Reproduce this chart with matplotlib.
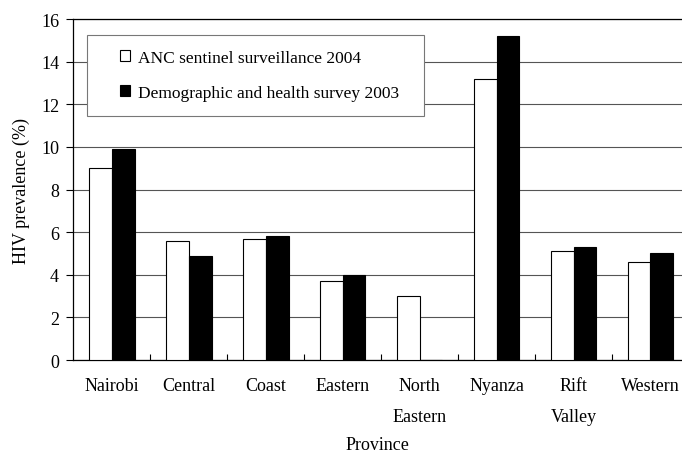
import numpy as np
import matplotlib
matplotlib.use("Agg")
import matplotlib.pyplot as plt
from matplotlib.ticker import FixedLocator
from matplotlib.patches import Rectangle

provinces = ["Nairobi", "Central", "Coast", "Eastern", "North\nEastern",
             "Nyanza", "Rift\nValley", "Western"]
anc_2004 = [9.0, 5.6, 5.7, 3.7, 3.0, 13.2, 5.1, 4.6]
dhs_2003 = [9.9, 4.9, 5.8, 4.0, 0.0, 15.2, 5.3, 5.0]
yticks = [0, 2, 4, 6, 8, 10, 12, 14, 16]

plt.rcParams["font.family"] = ["Liberation Serif", "DejaVu Serif"]

fig = plt.figure(figsize=(6.82, 4.56), dpi=100)
ax = fig.add_axes([0.107, 0.2083, 0.893, 0.7478])

x = np.arange(len(provinces))
w = 0.295
ax.bar(x - w / 2, anc_2004, w, color="white", edgecolor="black", linewidth=0.8,
       label="ANC sentinel surveillance 2004", zorder=3)
ax.bar(x + w / 2, dhs_2003, w, color="black", edgecolor="black", linewidth=0.8,
       label="Demographic and health survey 2003", zorder=3)

ax.set_xlim(-0.507, 7.41)
ax.set_ylim(0, 16)
ax.set_yticks(yticks)
ax.yaxis.grid(True, color="#555555", linewidth=0.8, zorder=0)
ax.set_axisbelow(True)

ax.set_xticks(x)
ax.set_xticklabels(provinces, fontsize=13, linespacing=2.1, va="top")
ax.tick_params(axis="x", which="major", length=0, pad=12)
ax.xaxis.set_minor_locator(FixedLocator(x[:-1] + 0.5))
ax.tick_params(axis="x", which="minor", direction="in", length=4, width=0.8)
ax.tick_params(axis="y", direction="out", length=5, width=0.8, labelsize=13, pad=5)

for s in ["left", "top", "bottom"]:
    ax.spines[s].set_linewidth(0.9)
ax.spines["right"].set_visible(False)

ax.set_ylabel("HIV prevalence (%)", fontsize=13, labelpad=8)
fig.text(0.553, 0.024, "Province", fontsize=13, ha="center", va="center")

# legend box drawn separately so the padding matches
box = Rectangle((0.0228, 0.716), 0.5538, 0.237, transform=ax.transAxes,
                facecolor="white", edgecolor="#777777", linewidth=0.8, zorder=4)
ax.add_patch(box)
leg = ax.legend(loc="upper left", bbox_to_anchor=(0.077, 0.91), fontsize=12.5,
                frameon=False, handlelength=0.6, handleheight=0.6,
                handletextpad=0.45, labelspacing=1.1, borderpad=0,
                borderaxespad=0)
leg.set_zorder(5)

fig.savefig("out.png", dpi=100)
